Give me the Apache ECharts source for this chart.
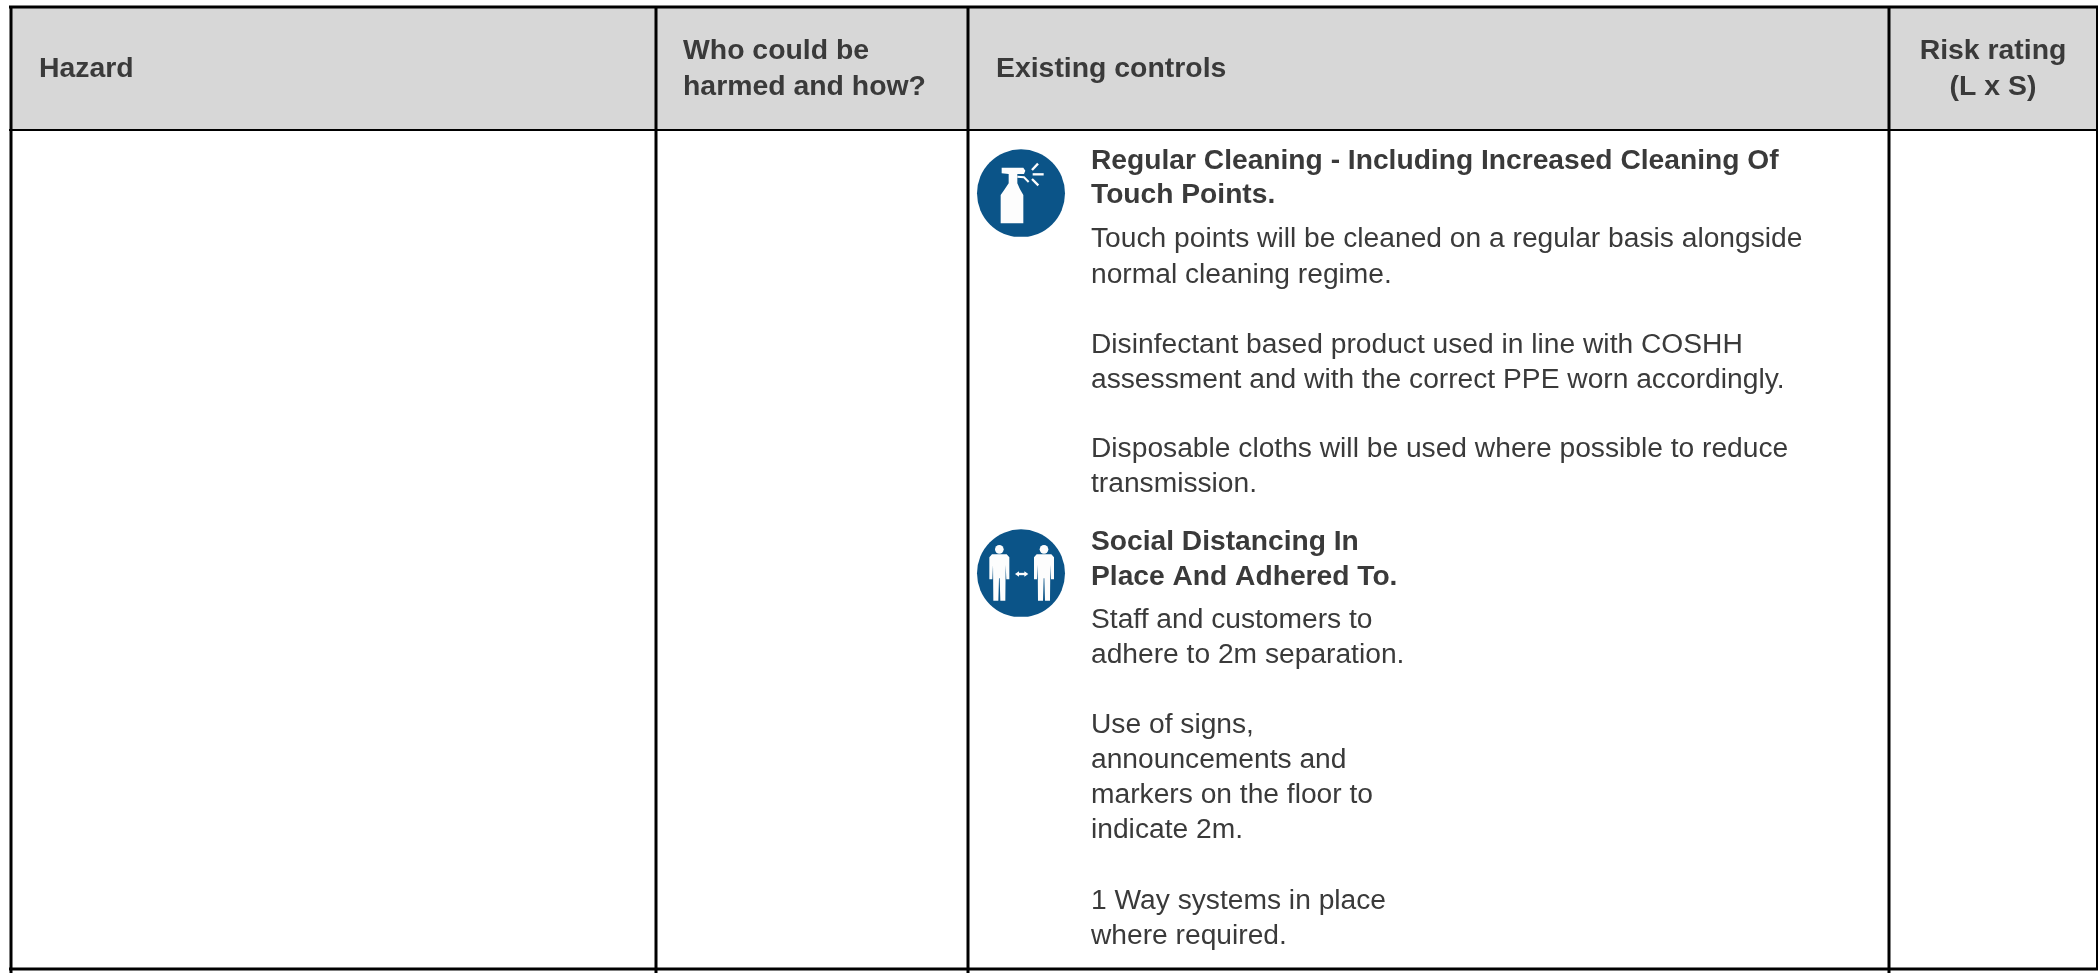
<!DOCTYPE html>
<html>
<head>
<meta charset="utf-8">
<style>html,body{margin:0;padding:0;background:#fff}#c{width:2100px;height:973px}</style>
<script src="https://cdn.jsdelivr.net/npm/echarts@6/dist/echarts.min.js"></script>
</head>
<body>
<div id="c"></div>
<script>
const headerLines = [
  ["Hazard"],
  ["Who could be", "harmed and how?"],
  ["Existing controls"],
  ["Risk rating", "(L x S)"]
];
const headingOne = ["Regular Cleaning - Including Increased Cleaning Of", "Touch Points."];
const bodyOne = [
  "Touch points will be cleaned on a regular basis alongside",
  "normal cleaning regime.",
  "Disinfectant based product used in line with COSHH",
  "assessment and with the correct PPE worn accordingly.",
  "Disposable cloths will be used where possible to reduce",
  "transmission."
];
const headingTwo = ["Social Distancing In", "Place And Adhered To."];
const bodyTwo = [
  "Staff and customers to",
  "adhere to 2m separation.",
  "Use of signs,",
  "announcements and",
  "markers on the floor to",
  "indicate 2m.",
  "1 Way systems in place",
  "where required."
];

// layout, separate from the content
const X = {left: 11, c1: 656, c2: 968, c3: 1889, right: 2097};
const Y = {top: 8, head: 130, bottom: 969};
const FS = {head: 28.4, body: 28.2};
const INK = "#3a3a3a", BLUE = "#0b5488", HEADBG = "#d7d7d7";
const TX = 1091;
const yHeadingOne = [161.5, 195.5], yBodyOne = [239.5, 275.5, 345.5, 380.5, 449.5, 484.5];
const yHeadingTwo = [542.5, 577.5], yBodyTwo = [620.5, 655.5, 725.5, 760.5, 795.5, 830.5, 901.5, 936.5];

const els = [];
const txt = (s, x, y, bold, size, align) => els.push({type: "text", z: 5, x, y, style: {
  text: s, fill: INK, align: align || "left", verticalAlign: "middle",
  font: (bold ? "bold " : "") + size + 'px "Liberation Sans", Arial, sans-serif'}});
const line = (x1, y1, x2, y2, w) => els.push({type: "line", z: 4, shape: {x1, y1, x2, y2},
  style: {stroke: "#000", lineWidth: w}});

els.push({type: "rect", z: 1, shape: {x: X.left, y: Y.top, width: X.right - X.left, height: Y.head - Y.top},
  style: {fill: HEADBG}});
line(X.left - 2, Y.top - 1, X.right + 1, Y.top - 1, 3);
line(X.left - 2, Y.head, X.right + 1, Y.head, 2);
line(X.left - 2, Y.bottom, X.right + 1, Y.bottom, 3);
[X.left, X.c1, X.c2, X.c3, X.right].forEach((x, i) =>
  line(x, Y.top - 2, x, i === 4 ? Y.bottom : 973, i === 4 ? 2 : 3));

txt(headerLines[0][0], 39, 69.5, true, FS.head);
txt(headerLines[1][0], 683, 51.5, true, FS.head);
txt(headerLines[1][1], 683, 87.5, true, FS.head);
txt(headerLines[2][0], 996, 69.5, true, FS.head);
txt(headerLines[3][0], 1993, 51.5, true, FS.head, "center");
txt(headerLines[3][1], 1993, 87.5, true, FS.head, "center");

headingOne.forEach((s, i) => txt(s, TX, yHeadingOne[i], true, FS.body));
bodyOne.forEach((s, i) => txt(s, TX, yBodyOne[i], false, FS.body));
headingTwo.forEach((s, i) => txt(s, TX, yHeadingTwo[i], true, FS.body));
bodyTwo.forEach((s, i) => txt(s, TX, yBodyTwo[i], false, FS.body));

// icons drawn at 3x inside scaled groups
const W = "#fdfdfd";
const circle = () => [
  {type: "circle", shape: {cx: 183, cy: 190, r: 132}, style: {fill: BLUE}},
  {type: "rect", shape: {x: 40, y: 320, width: 290, height: 20}, style: {fill: "#fff"}}
];
const poly = (points) => ({type: "polygon", shape: {points}, style: {fill: W}});
const ray = (x1, y1, x2, y2) => ({type: "line", shape: {x1, y1, x2, y2}, style: {stroke: W, lineWidth: 7}});

els.push({type: "group", x: 960, y: 130, scaleX: 1/3, scaleY: 1/3, z: 3, children: [
  ...circle(),
  poly([[125,113],[190,113],[196,122],[192,132],[172,132],[172,160],[180,178],[190,195],[190,280],[122,280],[122,195],[134,178],[146,160],[146,132],[125,130]]),
  {type: "polyline", shape: {points: [[172,140],[192,142],[206,156]]}, style: {stroke: W, lineWidth: 6, fill: "none"}},
  ray(216, 120, 234, 101), ray(218, 133, 251, 133), ray(216, 147, 235, 166)
]});

const person = (cx) => [
  {type: "circle", shape: {cx, cy: 118, r: 13}, style: {fill: W}},
  poly([[-22,133],[22,133],[30,142],[30,208],[21,208],[19,165],[18,272],[3,272],[1,205],[-1,205],[-3,272],[-18,272],[-19,165],[-21,208],[-30,208],[-30,142]]
    .map(p => [p[0] + cx, p[1]]))
];
els.push({type: "group", x: 960, y: 510, scaleX: 1/3, scaleY: 1/3, z: 3, children: [
  ...circle(),
  ...person(118), ...person(252),
  ray(172, 192, 198, 192),
  poly([[165,192],[177,184],[177,200]]),
  poly([[205,192],[193,184],[193,200]])
]});

const chart = echarts.init(document.getElementById("c"), null, {renderer: "canvas"});
chart.setOption({backgroundColor: "#fff", animation: false, graphic: {elements: els}});
</script>
</body>
</html>
